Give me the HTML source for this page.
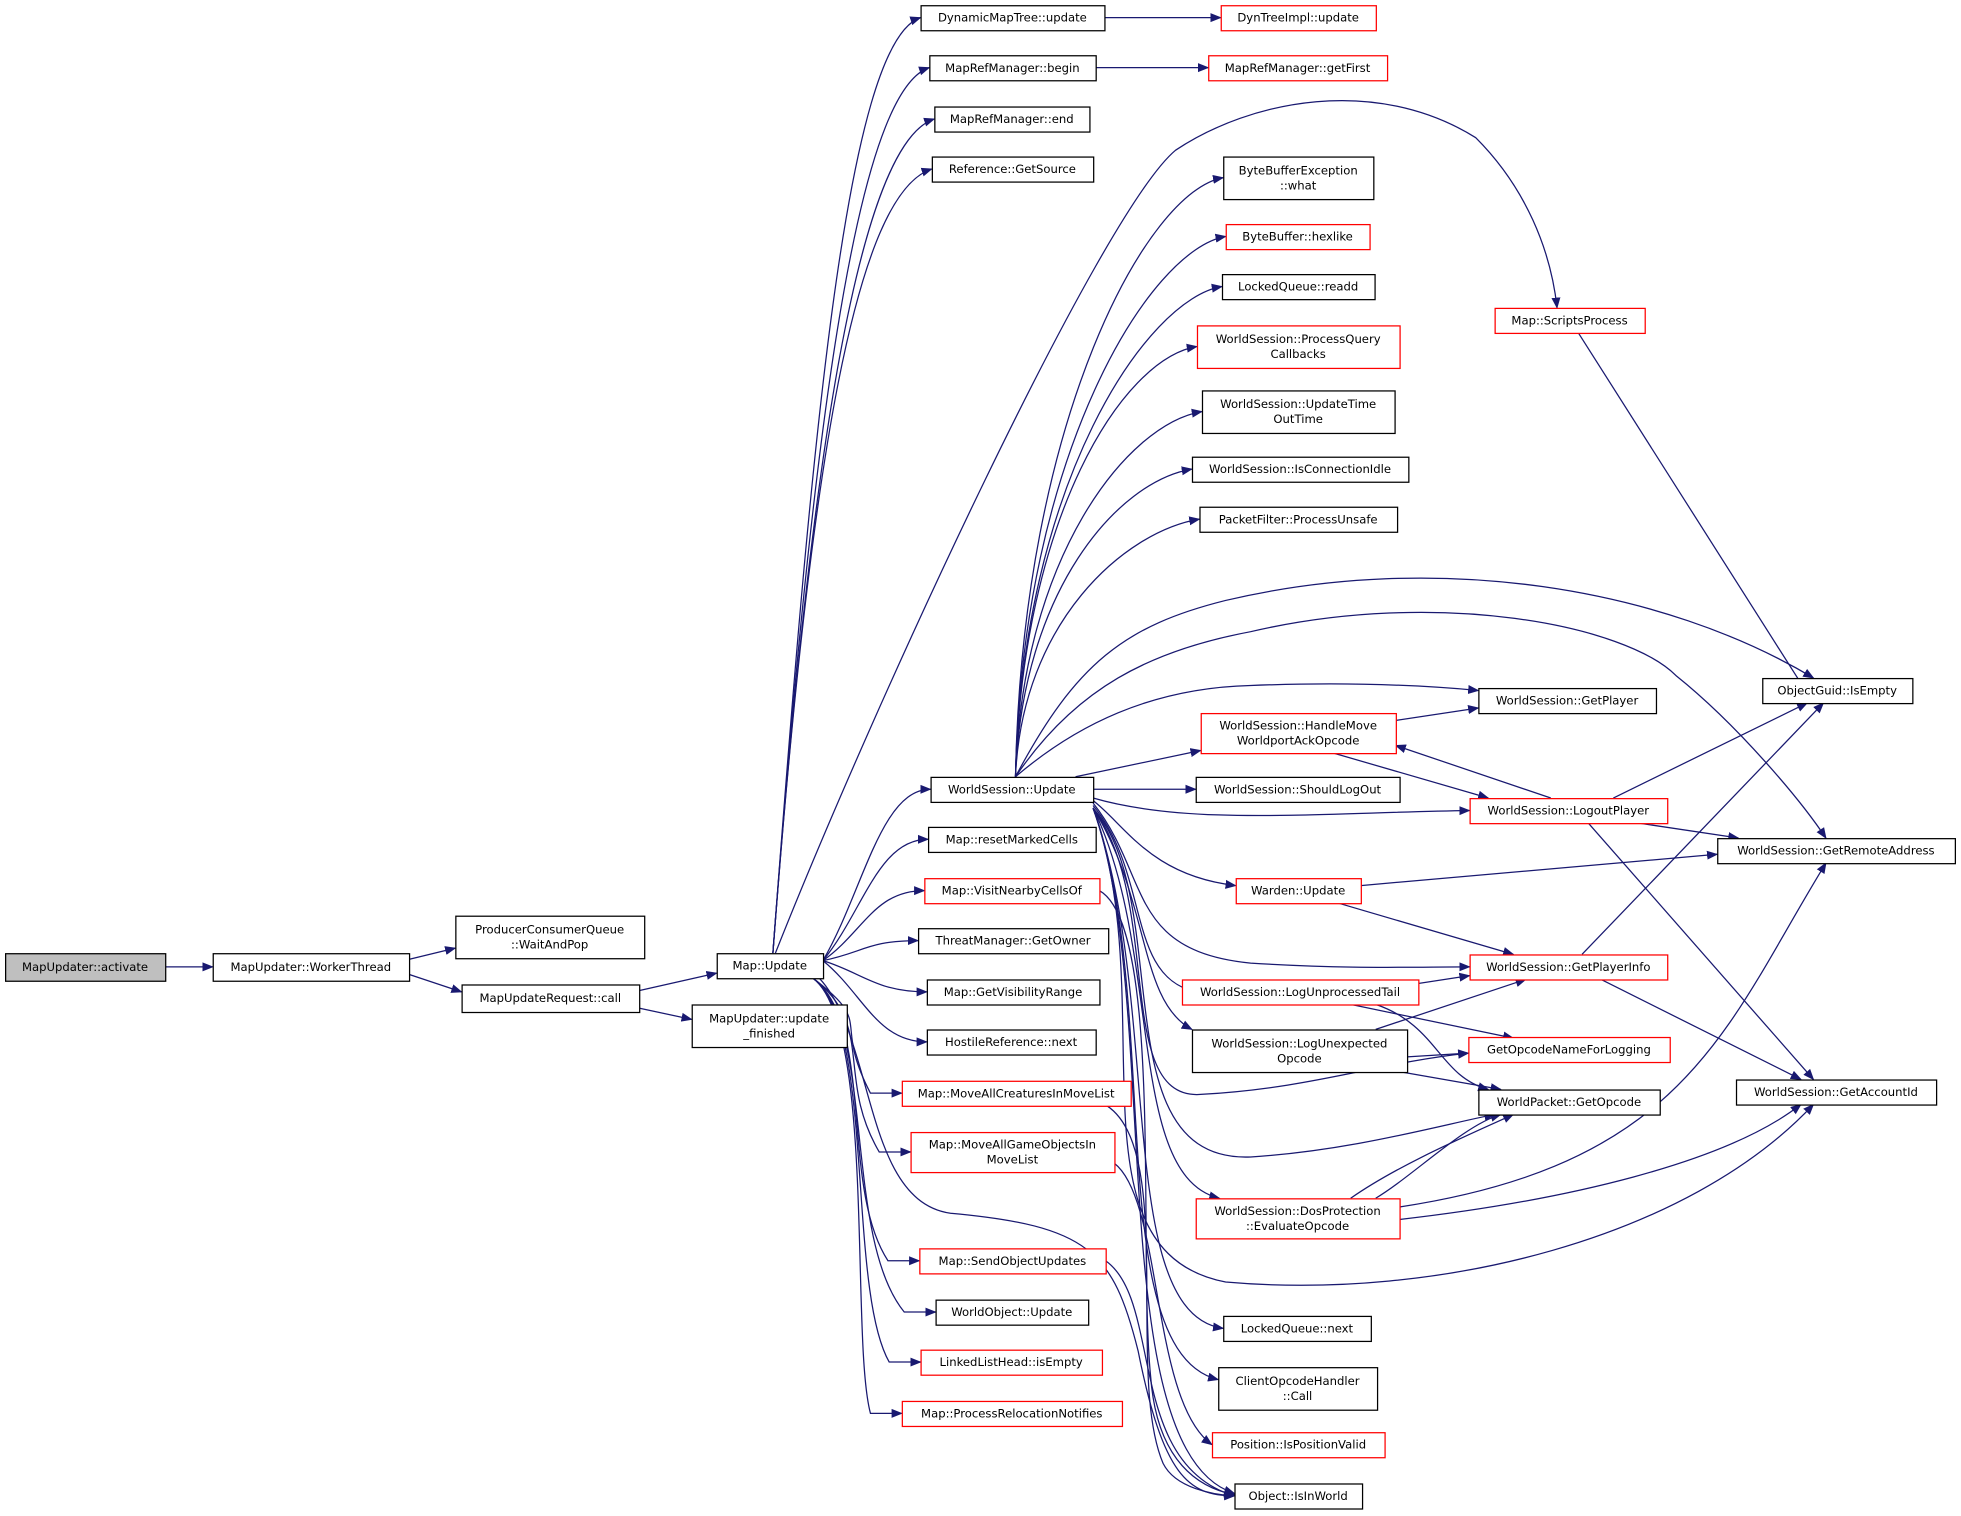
<!DOCTYPE html>
<html><head><meta charset="utf-8"><style>
html,body{margin:0;padding:0;background:#fff;}
svg{display:block;}
text{font-family:"DejaVu Sans","Liberation Sans",sans-serif;font-size:9.3px;fill:#000;}
</style></head><body>
<svg id="s" width="1961" height="1516" viewBox="0 0 1568 1212" xmlns="http://www.w3.org/2000/svg">
<defs><marker id="a" viewBox="0 0 10 10" refX="9" refY="5" markerWidth="9" markerHeight="9" markerUnits="userSpaceOnUse" orient="auto"><path d="M0,1 L10,5 L0,9 z" fill="#191970"/></marker></defs>
<g id="e" fill="none" stroke="#191970" stroke-width="1"></g>
<g id="n"></g>
</svg>
<script>
var N={
act:[4,762,128,22,"MapUpdater::activate",2],
wt:[170,762,157,22,"MapUpdater::WorkerThread"],
wp:[364,732,151,34,"ProducerConsumerQueue|::WaitAndPop"],
call:[369,787,142,22,"MapUpdateRequest::call"],
uf:[553,803,124,34,"MapUpdater::update|_finished"],
mu:[573,762,85,20,"Map::Update"],
dmt:[736,4,147,20,"DynamicMapTree::update"],
dti:[976,4,124,20,"DynTreeImpl::update",1],
mrb:[743,44,133,20,"MapRefManager::begin"],
mrf:[966,44,143,20,"MapRefManager::getFirst",1],
mre:[747,85,124,20,"MapRefManager::end"],
gs:[745,125,129,20,"Reference::GetSource"],
bbe:[978,125,120,34,"ByteBufferException|::what"],
hex:[980,179,115,20,"ByteBuffer::hexlike",1],
rd:[977,219,122,20,"LockedQueue::readd"],
pqc:[957,260,162,34,"WorldSession::ProcessQuery|Callbacks",1],
utt:[961,312,154,34,"WorldSession::UpdateTime|OutTime"],
ici:[953,365,173,20,"WorldSession::IsConnectionIdle"],
pu:[959,405,158,20,"PacketFilter::ProcessUnsafe"],
sp:[1195,246,120,20,"Map::ScriptsProcess",1],
ie:[1409,542,120,20,"ObjectGuid::IsEmpty"],
gp:[1182,550,142,20,"WorldSession::GetPlayer"],
hm:[960,570,156,32,"WorldSession::HandleMove|WorldportAckOpcode",1],
wsu:[744,621,130,20,"WorldSession::Update"],
slo:[956,621,163,20,"WorldSession::ShouldLogOut"],
lp:[1175,638,158,20,"WorldSession::LogoutPlayer",1],
gra:[1373,670,190,20,"WorldSession::GetRemoteAddress"],
rmc:[742,661,134,20,"Map::resetMarkedCells"],
vnc:[739,702,140,20,"Map::VisitNearbyCellsOf",1],
wd:[988,702,100,20,"Warden::Update",1],
tgo:[734,742,152,20,"ThreatManager::GetOwner"],
gvr:[741,783,138,20,"Map::GetVisibilityRange"],
gpi:[1175,763,158,20,"WorldSession::GetPlayerInfo",1],
lut:[945,783,189,20,"WorldSession::LogUnprocessedTail",1],
hrn:[741,823,135,20,"HostileReference::next"],
lue:[953,823,172,34,"WorldSession::LogUnexpected|Opcode"],
gon:[1174,829,161,20,"GetOpcodeNameForLogging",1],
mac:[721,864,183,20,"Map::MoveAllCreaturesInMoveList",1],
gai:[1388,863,160,20,"WorldSession::GetAccountId"],
wpg:[1182,871,145,20,"WorldPacket::GetOpcode"],
mag:[728,905,163,32,"Map::MoveAllGameObjectsIn|MoveList",1],
dos:[956,958,163,32,"WorldSession::DosProtection|::EvaluateOpcode",1],
sou:[735,998,149,20,"Map::SendObjectUpdates",1],
wou:[748,1039,122,20,"WorldObject::Update"],
lqn:[978,1052,118,20,"LockedQueue::next"],
lle:[736,1079,145,20,"LinkedListHead::isEmpty",1],
coh:[974,1093,127,34,"ClientOpcodeHandler|::Call"],
prn:[721,1120,176,20,"Map::ProcessRelocationNotifies",1],
ppv:[969,1145,138,20,"Position::IsPositionValid",1],
iiw:[987,1186,102,20,"Object::IsInWorld"]
};
var NS="http://www.w3.org/2000/svg";
var eg=document.getElementById('e'),ng=document.getElementById('n');
function mk(t,a,p){var el=document.createElementNS(NS,t);for(var k in a)el.setAttribute(k,a[k]);p.appendChild(el);return el;}
for(var k in N){var b=N[k];
 mk('rect',{x:b[0]+.5,y:b[1]+.5,width:b[2],height:b[3],fill:b[5]==2?'#bfbfbf':'#fff',stroke:b[5]==1?'#ff0000':'#000','stroke-width':1},ng);
 var ls=b[4].split('|');
 for(var i=0;i<ls.length;i++){
  var y=b[1]+b[3]/2+3.3+(ls.length==2?(i==0?-6:6):0);
  var t=mk('text',{x:b[0]+b[2]/2,y:y,'text-anchor':'middle'},ng);t.textContent=ls[i];
 }}
function L(k){var b=N[k];return [b[0],b[1]+b[3]/2];}
function R(k){var b=N[k];return [b[0]+b[2],b[1]+b[3]/2];}
function P(d){mk('path',{d:d,'marker-end':'url(#a)'},eg);}
function S(a,c){P('M'+a[0]+','+a[1]+' L'+c[0]+','+c[1]);}
S(R('act'),L('wt'));
S([327,767],[364,758]);S([327,779],[369,793]);
S([511,792],[573,778]);S([511,806],[553,815]);
S(R('dmt'),L('dti'));S(R('mrb'),L('mrf'));
var mt=[618,762];
['dmt','mrb','mre','gs'].forEach(function(k){var c=L(k);
 P('M'+mt[0]+','+mt[1]+' C'+(mt[0]+30)+','+(mt[1]-400)+' '+(c[0]-60)+','+(c[1]+20)+' '+c[0]+','+c[1]);});
P('M620,762 C700,560 880,170 940,120 C1000,80 1100,60 1180,110 C1220,150 1240,200 1245,246');
['wsu','rmc','vnc','tgo','gvr','hrn'].forEach(function(k){var c=L(k);
 P('M658,768 C690,'+(768+(c[1]-768)*0.4)+' '+(c[0]-40)+','+c[1]+' '+c[0]+','+c[1]);});
['mac','mag','sou','wou','lle','prn'].forEach(function(k,i){var c=L(k);
 P('M650,782 C700,820 '+(665+i*3)+','+(c[1]-60)+' '+(c[0]-25)+','+c[1]+' L'+c[0]+','+c[1]);});
P('M655,782 C700,830 690,960 760,970 C870,980 890,1000 910,1080 C930,1180 950,1196 987,1196');
var wt=[812,621];
['bbe','hex','rd','pqc','utt','ici','pu'].forEach(function(k){var c=L(k);
 P('M'+wt[0]+','+wt[1]+' C'+(wt[0]+5)+','+(wt[1]-(wt[1]-c[1])*0.6)+' '+(c[0]-60)+','+(c[1]+10)+' '+c[0]+','+c[1]);});
P('M812,621 C860,530 900,500 980,480 C1150,440 1330,470 1450,542');
P('M812,621 C860,550 920,520 1000,505 C1150,470 1300,500 1340,540 C1390,580 1440,640 1460,670');
P('M812,621 C860,580 920,550 1000,548 C1080,545 1140,548 1182,552');
S([860,621],[960,600]);
S(R('wsu'),L('slo'));
P('M874,638 C950,660 1050,650 1175,648');
P('M874,640 C900,660 920,700 988,708');
P('M874,642 C920,700 900,760 1000,770 C1080,775 1130,773 1175,773');
P('M874,644 C920,700 900,780 956,793');
P('M874,646 C920,720 910,800 953,823');
P('M874,646 C930,720 890,880 960,875 C1050,870 1100,850 1174,842');
P('M874,646 C940,720 880,930 1000,925 C1080,920 1150,900 1195,891');
P('M874,646 C930,760 900,940 975,958');
P('M874,646 C930,800 890,1050 978,1062');
P('M874,646 C930,800 880,1080 974,1103');
P('M874,646 C930,800 880,1160 987,1194');
P('M874,646 C930,800 850,1000 980,1025 C1150,1040 1350,990 1450,883');
S([1262,266],[1450,562]);
S([1116,576],[1182,566]);S([1066,602],[1190,638]);
S([1240,638],[1116,596]);
S([1290,638],[1445,562]);S([1310,658],[1390,670]);S([1270,658],[1450,863]);
S([1088,708],[1373,683]);S([1070,722],[1210,763]);
S([1265,763],[1458,562]);S([1280,783],[1440,863]);
S([1090,793],[1175,780]);S([1080,803],[1210,830]);
P('M1100,803 C1150,820 1150,860 1190,871');
S([1100,823],[1220,783]);S([1125,845],[1174,842]);S([1120,857],[1200,871]);
P('M1100,958 C1130,940 1170,900 1200,891');P('M1080,958 C1120,930 1180,905 1210,891');
P('M1119,965 C1350,930 1380,820 1460,690');
P('M1119,975 C1250,960 1380,930 1440,883');
P('M879,712 C930,740 910,1000 920,1100 C925,1170 960,1190 987,1195');
P('M885,884 C940,920 900,1100 930,1170 C940,1190 970,1195 987,1196');
P('M891,930 C930,960 920,1120 969,1155');
P('M884,1008 C930,1040 900,1170 987,1196');
</script>
</body></html>
